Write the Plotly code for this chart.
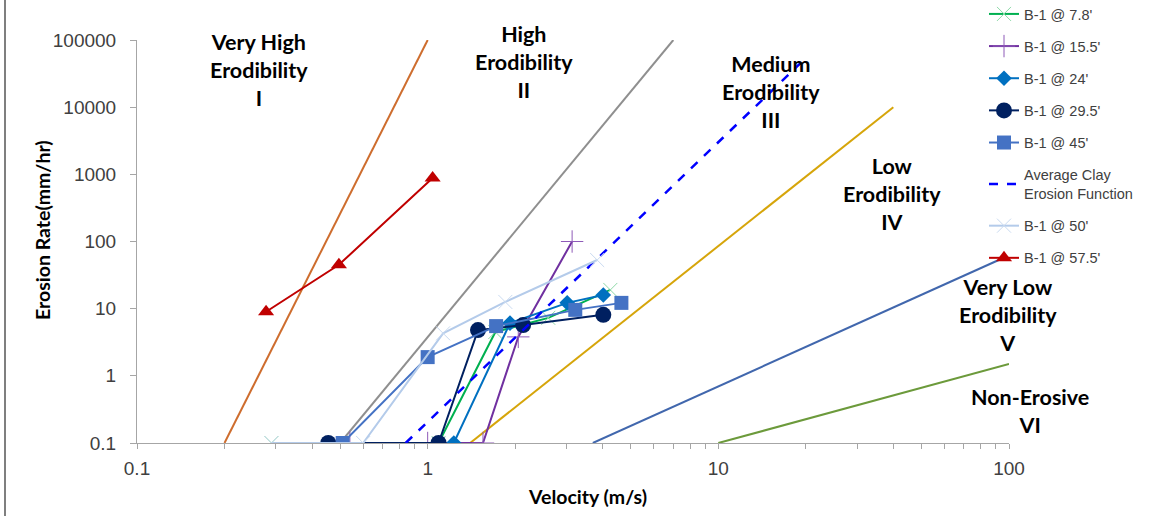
import plotly.graph_objects as go

# ---------------- data ----------------
# erodibility category boundary lines (velocity m/s, erosion rate mm/hr)
bound_I_v = [0.2, 1.0]
bound_I_e = [0.1, 100000]
bound_II_v = [0.5, 7.0]
bound_II_e = [0.1, 100000]
bound_III_v = [1.4, 40.0]
bound_III_e = [0.1, 10000]
bound_IV_v = [3.7, 93.0]
bound_IV_e = [0.1, 54]
bound_V_v = [10.0, 100.0]
bound_V_e = [0.1, 1.5]

# test series
v_78 = [0.29, 1.09, 1.71, 2.6, 4.25]
e_78 = [0.1, 0.1, 4.5, 7.3, 19]
v_155 = [0.54, 1.0, 1.55, 2.05, 3.14]
e_155 = [0.1, 0.1, 0.1, 3.8, 100]
v_24 = [1.23, 1.92, 3.02, 4.02]
e_24 = [0.1, 6.1, 12.2, 16]
v_295 = [0.455, 1.09, 1.49, 2.13, 4.02]
e_295 = [0.1, 0.1, 4.8, 5.7, 8.1]
v_45 = [0.51, 1.0, 1.72, 3.22, 4.64]
e_45 = [0.1, 1.9, 5.5, 9.6, 12.2]
v_avg = [0.84, 20.0]
e_avg = [0.1, 54000]
v_50 = [0.29, 0.6, 1.13, 1.85, 3.83]
e_50 = [0.1, 0.1, 4.3, 12.6, 53]
v_575 = [0.278, 0.495, 1.04]
e_575 = [9, 45, 880]

x_tick_vals = [0.1, 1, 10, 100]
x_tick_text = ["0.1", "1", "10", "100"]
x_minor_vals = [0.2, 0.3, 0.4, 0.5, 0.6, 0.7, 0.8, 0.9,
                2, 3, 4, 5, 6, 7, 8, 9,
                20, 30, 40, 50, 60, 70, 80, 90]
y_tick_vals = [0.1, 1, 10, 100, 1000, 10000, 100000]
y_tick_text = ["0.1", "1", "10", "100", "1000", "10000", "100000"]

category_labels = ["Very High<br>Erodibility<br>I", "High<br>Erodibility<br>II",
                   "Medium<br>Erodibility<br>III", "Low<br>Erodibility<br>IV",
                   "Very Low<br>Erodibility<br>V", "Non-Erosive<br>VI"]
x_title = "Velocity (m/s)"
y_title = "Erosion Rate(mm/hr)"
# ---------------------------------------

W, H = 1156, 516
L, R, T, B = 137, 147, 40, 73
PW, PH = W - L - R, H - T - B

def px(x):
    return (x - L) / PW

def py(y):
    return (H - B - y) / PH

fig = go.Figure()

bounds = [(bound_I_v, bound_I_e, "#CE6D2E"), (bound_II_v, bound_II_e, "#8F8F8F"),
          (bound_III_v, bound_III_e, "#D6A50A"), (bound_IV_v, bound_IV_e, "#4167AD"),
          (bound_V_v, bound_V_e, "#6C9A3B")]
for bv, be, c in bounds:
    fig.add_trace(go.Scatter(x=bv, y=be, mode="lines", line=dict(color=c, width=2),
                             showlegend=False, hoverinfo="skip"))

series = [
    ("B-1 @ 7.8'", v_78, e_78, "#00B050", dict(symbol="x-thin", size=14, line=dict(width=1, color="#8ED9A8"))),
    ("B-1 @ 15.5'", v_155, e_155, "#7030A0", dict(symbol="cross-thin", size=16, line=dict(width=1, color="#8E5AB8"))),
    ("B-1 @ 24'", v_24, e_24, "#0070C0", dict(symbol="diamond", size=12, color="#0070C0")),
    ("B-1 @ 29.5'", v_295, e_295, "#002060", dict(symbol="circle", size=16, color="#002060")),
    ("B-1 @ 45'", v_45, e_45, "#4472C4", dict(symbol="square", size=14, color="#4472C4")),
    ("Average Clay<br>Erosion Function", v_avg, e_avg, "#0000FF", None),
    ("B-1 @ 50'", v_50, e_50, "#B4CBEA", dict(symbol="x-thin", size=14, line=dict(width=1, color="#C9DAF0"))),
    ("B-1 @ 57.5'", v_575, e_575, "#C00000", dict(symbol="triangle-up", size=14, color="#C00000")),
]
for i, (name, xv, yv, col, mk) in enumerate(series):
    if mk is None:
        fig.add_trace(go.Scatter(x=xv, y=yv, mode="lines", name=name, legendgroup=f"g{i}",
                                 line=dict(color=col, width=2.5, dash="dash")))
    else:
        fig.add_trace(go.Scatter(x=xv, y=yv, mode="lines+markers", name=name, legendgroup=f"g{i}",
                                 line=dict(color=col, width=2), marker=mk))

ann_pos = [(259, 70), (524, 62), (771, 92), (892, 194), (1008, 315), (1030, 411)]
for txt, (ax, ay) in zip(category_labels, ann_pos):
    fig.add_annotation(x=px(ax), y=py(ay), xref="paper", yref="paper", text=f"<b>{txt}</b>",
                       showarrow=False, xanchor="center", yanchor="middle",
                       font=dict(family="Lato", size=21.5, color="#000000"))

title_font = dict(family="Lato", size=19.5, color="#000000")
fig.add_annotation(x=px(587), y=py(496), xref="paper", yref="paper", text=f"<b>{x_title}</b>",
                   showarrow=False, xanchor="center", yanchor="middle", font=title_font)
fig.add_annotation(x=px(42), y=py(230), xref="paper", yref="paper", text=f"<b>{y_title}</b>",
                   showarrow=False, xanchor="center", yanchor="middle", textangle=-90, font=title_font)

fig.add_shape(type="line", xref="paper", yref="paper", x0=px(5), x1=px(5), y0=py(520), y1=py(-5),
              line=dict(color="#555555", width=1.5))

axis_font = dict(family="Liberation Sans, Arial", size=19, color="#404040")
fig.update_layout(
    width=W, height=H,
    margin=dict(l=L, r=R, t=T, b=B, autoexpand=False),
    plot_bgcolor="white", paper_bgcolor="white",
    showlegend=True,
    legend=dict(x=px(984), y=py(-2), xanchor="left", yanchor="top", tracegroupgap=10.3,
                maxheight=510,
                font=dict(family="Liberation Sans, Arial", size=14.5, color="#404040"),
                bgcolor="rgba(0,0,0,0)"),
    xaxis=dict(type="log", range=[-1, 2], tickvals=x_tick_vals, ticktext=x_tick_text,
               showgrid=False, zeroline=False,
               showline=True, linecolor="#A6A6A6", linewidth=1,
               ticks="outside", ticklen=5, tickcolor="#A6A6A6", ticklabelstandoff=3,
               minor=dict(tickvals=x_minor_vals, ticks="outside", ticklen=5,
                          tickcolor="#A6A6A6", showgrid=False),
               tickfont=axis_font),
    yaxis=dict(type="log", range=[-1, 5], tickvals=y_tick_vals, ticktext=y_tick_text,
               showgrid=False, zeroline=False,
               showline=True, linecolor="#A6A6A6", linewidth=1,
               ticks="outside", ticklen=6, tickcolor="#A6A6A6", ticklabelstandoff=10,
               tickfont=axis_font),
)

fig.write_html("out.html", config={"displayModeBar": False},
               post_script="document.body.style.margin='0';")
